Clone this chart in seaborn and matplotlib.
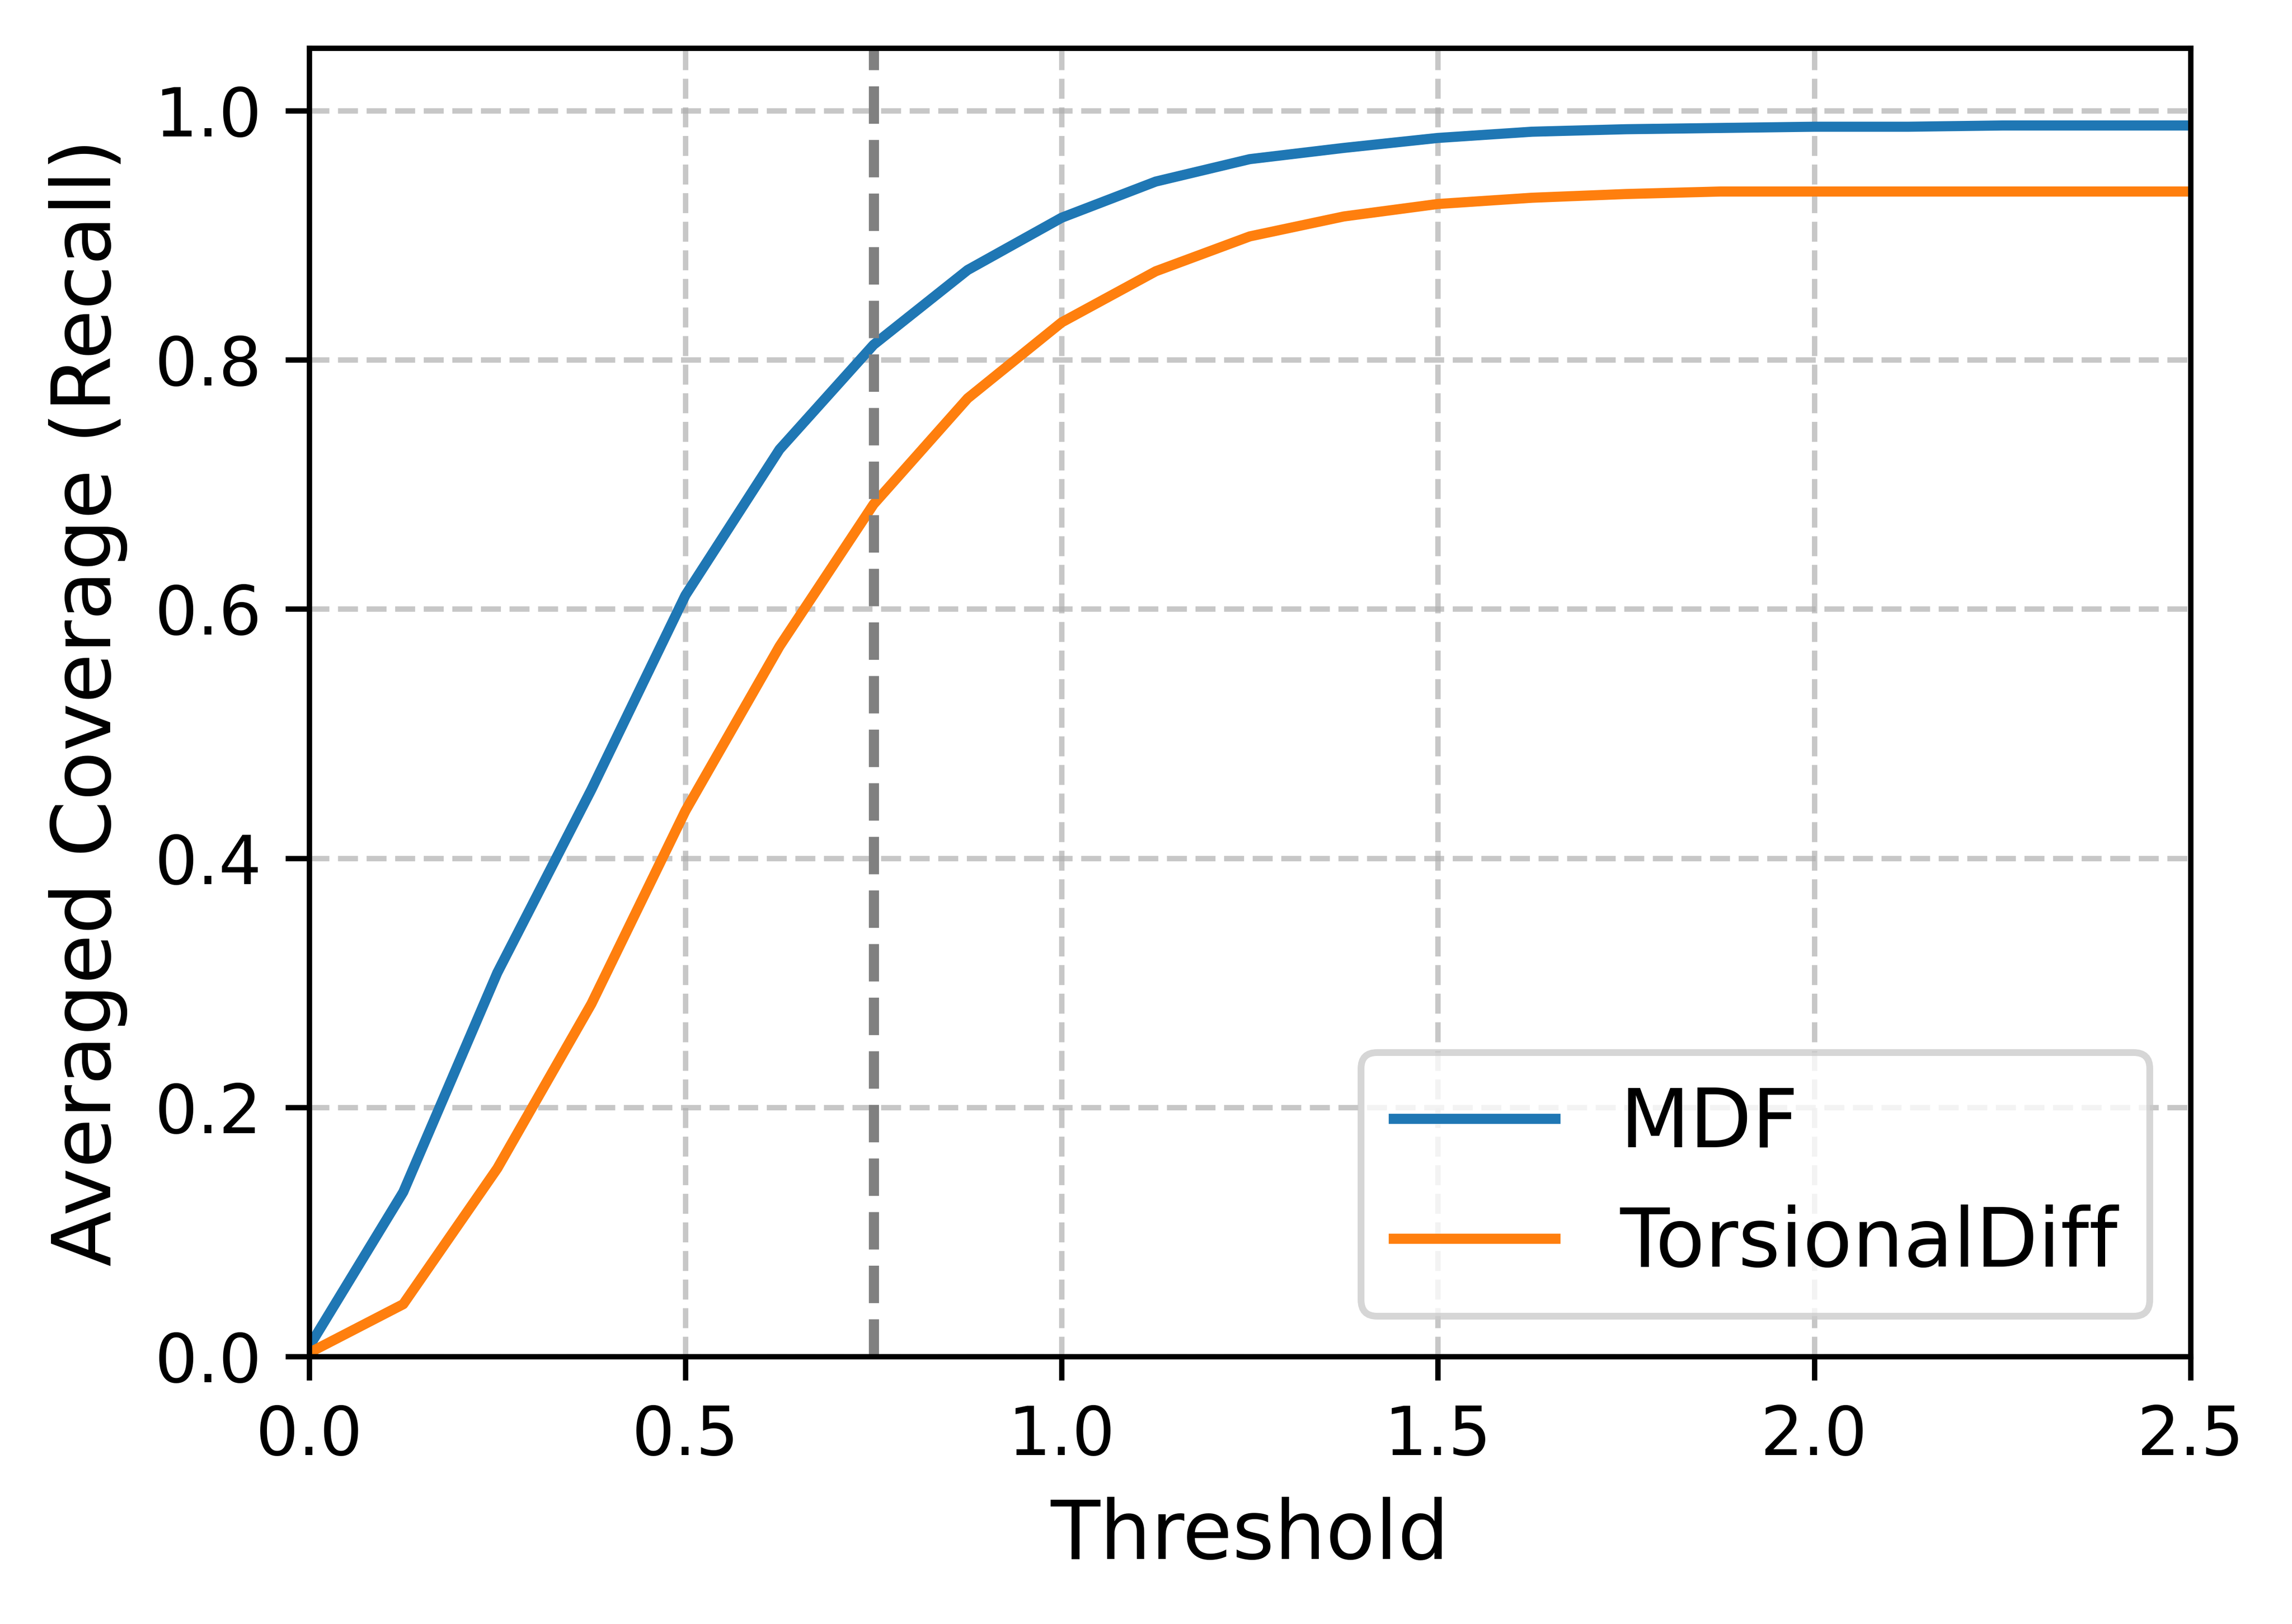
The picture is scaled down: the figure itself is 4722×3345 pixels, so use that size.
import pandas as pd
import matplotlib.pyplot as plt
import seaborn as sns

# coverage curves
thresholds = [0.0, 0.125, 0.25, 0.375, 0.5, 0.625, 0.75, 0.875, 1.0, 1.125, 1.25,
              1.375, 1.5, 1.625, 1.75, 1.875, 2.0, 2.125, 2.25, 2.375, 2.5]
mdf_recall = [0.008, 0.132, 0.308, 0.455, 0.611, 0.728, 0.812, 0.872, 0.914, 0.943, 0.961,
              0.970, 0.978, 0.983, 0.985, 0.986, 0.987, 0.987, 0.988, 0.988, 0.988]
torsional_recall = [0.003, 0.042, 0.151, 0.283, 0.438, 0.570, 0.684, 0.769, 0.830, 0.871, 0.899,
                    0.915, 0.925, 0.930, 0.933, 0.935, 0.935, 0.935, 0.935, 0.935, 0.935]
methods = ["MDF", "TorsionalDiff"]
colors = ["#1f77b4", "#ff7f0e"]
cutoff = 0.75

df = pd.DataFrame({
    "threshold": thresholds * 2,
    "recall": mdf_recall + torsional_recall,
    "method": [methods[0]] * len(thresholds) + [methods[1]] * len(thresholds),
})

fig, ax = plt.subplots(figsize=(4.722, 3.345), dpi=1000)
fig.subplots_adjust(left=0.1349, right=0.9557, bottom=0.1647, top=0.9703)

for metodo, cor in zip(methods, colors):
    sub = df[df["method"] == metodo]
    sns.lineplot(data=sub, x="threshold", y="recall", color=cor, linewidth=1.5,
                 label=metodo, ax=ax)

ax.axvline(cutoff, color="gray", linestyle="--", linewidth=1.5)

ax.set_xlim(0, 2.5)
ax.set_ylim(0, 1.05)
ax.set_xlabel("Threshold", fontsize=12)
ax.set_ylabel("Averaged Coverage (Recall)", fontsize=12)
ax.tick_params(labelsize=10)
ax.grid(True, linestyle="--", alpha=0.7)
ax.legend(loc="lower right", fontsize=12)

plt.savefig("out.png", dpi=1000)
plt.close()
